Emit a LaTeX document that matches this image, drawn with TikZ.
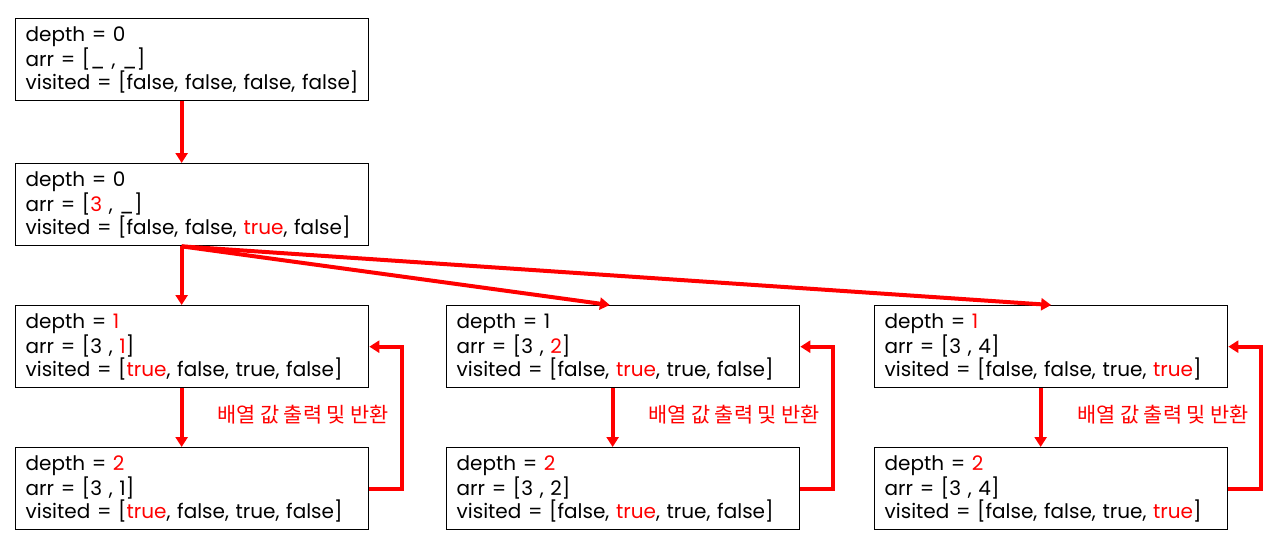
\documentclass[tikz,border=0pt]{standalone}
\usepackage{fontspec}
\setmainfont{Poppins}
\newfontfamily\kofont{Noto Sans CJK KR}
\usetikzlibrary{arrows.meta}

\newcommand{\hl}[1]{\textcolor{red}{#1}}

\tikzset{
  state/.style={draw, line width=1pt, anchor=north west,
    minimum width=264.75pt, minimum height=61.5pt,
    inner xsep=7.5pt, text width=249.75pt, align=left,
    font=\fontsize{15}{17.25}\selectfont},
  flow/.style={red, line width=3pt, -{Triangle[width=9pt,length=7.5pt]}},
  note/.style={red, font=\kofont\fontsize{15.6}{17}\selectfont}
}

\begin{document}
\begin{tikzpicture}[x=0.75pt, y=-0.75pt]
\useasboundingbox (0,0) rectangle (1288,554);

% Nodes
\node[state] (s0) at (15,18) {depth = 0\\arr = [\_ , \_]\\visited = [false, false, false, false]};
\node[state] (s1) at (15,163) {depth = 0\\arr = [\hl{3} , \_]\\visited = [false, false, \hl{true}, false]};

\node[state] (a1) at (15,305) {depth = \hl{1}\\arr = [3 , \hl{1}]\\visited = [\hl{true}, false, true, false]};
\node[state] (b1) at (446,305) {depth = 1\\arr = [3 , \hl{2}]\\visited = [false, \hl{true}, true, false]};
\node[state] (c1) at (874,305) {depth = \hl{1}\\arr = [3 , 4]\\visited = [false, false, true, \hl{true}]};

\node[state] (a2) at (15,447) {depth = \hl{2}\\arr = [3 , 1]\\visited = [\hl{true}, false, true, false]};
\node[state] (b2) at (446,447) {depth = \hl{2}\\arr = [3 , 2]\\visited = [false, \hl{true}, true, false]};
\node[state] (c2) at (874,447) {depth = \hl{2}\\arr = [3 , 4]\\visited = [false, false, true, \hl{true}]};

\node[note] (la) at (303,415) {배열 값 출력 및 반환};
\node[note] (lb) at (734,415) {배열 값 출력 및 반환};
\node[note] (lc) at (1163,415) {배열 값 출력 및 반환};

% Edges
\draw[flow] ([xshift=-7.9pt]s0.south) -- ([xshift=-7.9pt]s1.north);
\draw[flow] ([xshift=-7.9pt]s1.south) -- ([xshift=-7.9pt]a1.north);
\draw[flow] ([xshift=-7.9pt]s1.south) -- ([xshift=-10pt]b1.north);
\draw[flow] ([xshift=-7.9pt]s1.south) -- (c1.north);

\draw[flow] ([xshift=-7.9pt]a1.south) -- ([xshift=-7.9pt]a2.north);
\draw[flow] ([xshift=-7.9pt]b1.south) -- ([xshift=-7.9pt]b2.north);
\draw[flow] ([xshift=-7.9pt]c1.south) -- ([xshift=-7.9pt]c2.north);

\draw[flow] (a2.east) -- ++(33,0) |- (a1.east);
\draw[flow] (b2.east) -- ++(33,0) |- (b1.east);
\draw[flow] (c2.east) -- ++(33,0) |- (c1.east);

\end{tikzpicture}
\end{document}
